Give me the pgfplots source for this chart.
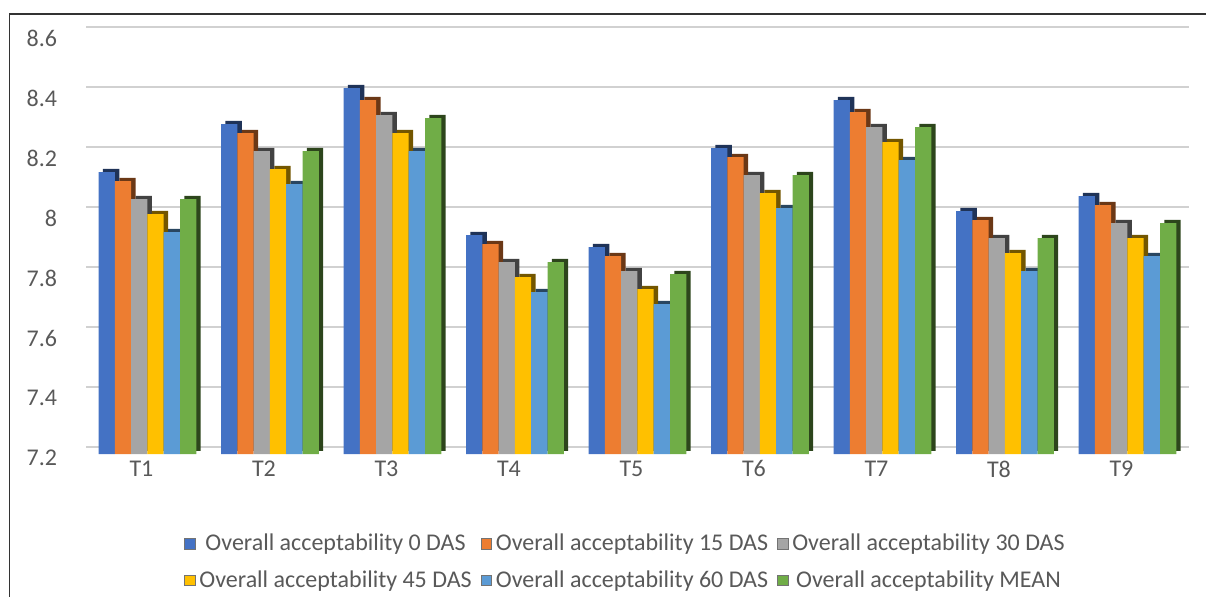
\documentclass[border=0pt]{standalone}
\usepackage{pgfplots}
\usepackage{pgfplotstable}
\pgfplotsset{compat=1.18}
\usepackage{fontspec}
\setmainfont{Carlito}

\definecolor{cA}{HTML}{4472C4}
\definecolor{cB}{HTML}{ED7D31}
\definecolor{cC}{HTML}{A5A5A5}
\definecolor{cD}{HTML}{FFC000}
\definecolor{cE}{HTML}{5B9BD5}
\definecolor{cF}{HTML}{70AD47}
\definecolor{txt}{HTML}{595959}

% Overall acceptability scores per treatment
\pgfplotstableread{
x d0 d15 d30 d45 d60 mean
0 8.14 8.11 8.05 8.00 7.94 8.05
1 8.30 8.27 8.21 8.15 8.10 8.21
2 8.42 8.38 8.33 8.27 8.21 8.32
3 7.93 7.90 7.84 7.79 7.74 7.84
4 7.89 7.86 7.81 7.75 7.70 7.80
5 8.22 8.19 8.13 8.07 8.02 8.13
6 8.38 8.34 8.29 8.24 8.18 8.29
7 8.01 7.98 7.92 7.87 7.81 7.92
8 8.06 8.03 7.97 7.92 7.86 7.97
}\datatable

\pgfplotsset{
  sq legend/.style={legend image code/.code={
      \draw[##1, draw=black!55, line width=0.4pt] (0pt,-2.6pt) rectangle (5.2pt,2.6pt);}},
  depth/.style={draw=none, fill=#1, xshift=2.2pt, yshift=1.6pt, forget plot},
  face/.style={draw=none, fill=#1, sq legend},
}

\begin{document}
\begin{tikzpicture}
\useasboundingbox (0,0) rectangle (603pt,-298pt);
\draw[black!80, line width=0.7pt] (4.6pt,-300pt) -- (4.6pt,-7pt) -- (605pt,-7pt);
\begin{axis}[
  at={(43.1pt,-227pt)}, anchor=south west,
  scale only axis, width=551.25pt, height=210pt,
  xmin=-0.5, xmax=8.5, ymin=7.2, ymax=8.6,
  ybar, bar width=0.133,
  xtick={0,...,8},
  xticklabels={T1,T2,T3,T4,T5,T6,T7,T8,T9},
  ytick={7.2,7.4,7.6,7.8,8,8.2,8.4,8.6},
  /pgf/number format/assume math mode=true,
  /pgf/number format/fixed,
  axis line style={draw=none},
  tick style={draw=none},
  ymajorgrids,
  major grid style={draw=black!18, line width=1pt, yshift=3.5pt},
  ticklabel style={font=\fontsize{12}{14}\selectfont, text=txt},
  yticklabel style={xshift=-11pt, yshift=-2pt},
  xticklabel style={xshift=-3pt, yshift=4.5pt},
  legend columns=3,
  legend style={at={(0.49,-0.18)}, anchor=north, draw=none,
    font=\fontsize{12}{14}\selectfont, text=txt,
    row sep=4.5pt, inner sep=0pt,
    /tikz/every even column/.append style={column sep=2.5pt}},
]
% side and top faces of the columns
\addplot[depth=cA!45!black, bar shift=-0.3325] table[x=x,y=d0]{\datatable};
\addplot[depth=cB!45!black, bar shift=-0.1995] table[x=x,y=d15]{\datatable};
\addplot[depth=cC!40!black, bar shift=-0.0665] table[x=x,y=d30]{\datatable};
\addplot[depth=cD!45!black, bar shift=0.0665] table[x=x,y=d45]{\datatable};
\addplot[depth=cE!45!black, bar shift=0.1995] table[x=x,y=d60]{\datatable};
\addplot[depth=cF!40!black, bar shift=0.3325] table[x=x,y=mean]{\datatable};
% front faces
\addplot[face=cA, bar shift=-0.3325] table[x=x,y=d0]{\datatable};
\addlegendentry{Overall acceptability 0 DAS}
\addplot[face=cB, bar shift=-0.1995] table[x=x,y=d15]{\datatable};
\addlegendentry{Overall acceptability 15 DAS}
\addplot[face=cC, bar shift=-0.0665] table[x=x,y=d30]{\datatable};
\addlegendentry{Overall acceptability 30 DAS}
\addplot[face=cD, bar shift=0.0665] table[x=x,y=d45]{\datatable};
\addlegendentry{Overall acceptability 45 DAS}
\addplot[face=cE, bar shift=0.1995] table[x=x,y=d60]{\datatable};
\addlegendentry{Overall acceptability 60 DAS}
\addplot[face=cF, bar shift=0.3325] table[x=x,y=mean]{\datatable};
\addlegendentry{Overall acceptability MEAN}
\end{axis}
\end{tikzpicture}
\end{document}
